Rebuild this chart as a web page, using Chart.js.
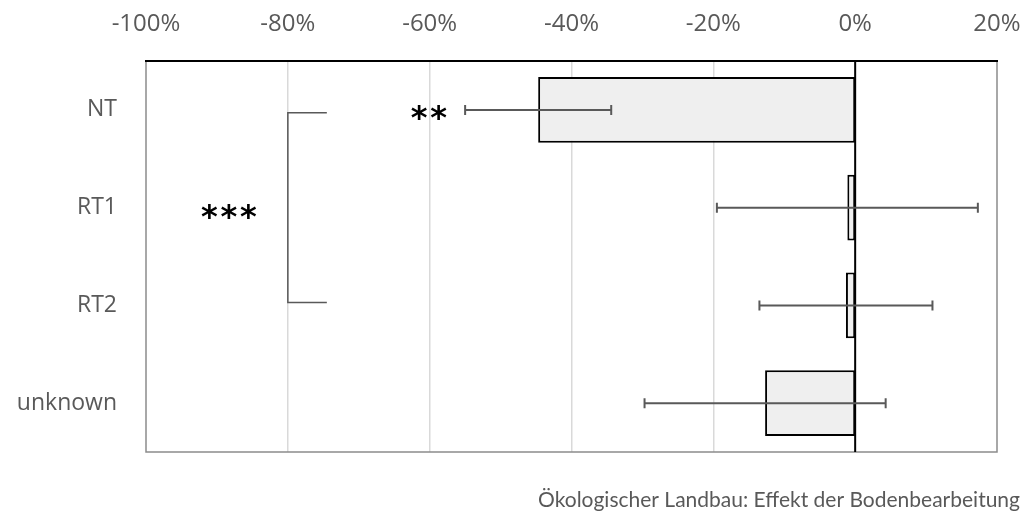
<!DOCTYPE html>
<html>
<head>
<meta charset="utf-8">
<script src="https://cdn.jsdelivr.net/npm/chart.js@4/dist/chart.umd.min.js"></script>
<style>
  html, body { margin: 0; padding: 0; background: #ffffff; }
  #wrap { width: 1027px; height: 516px; }
</style>
</head>
<body>
<div id="wrap"><canvas id="c" width="1027" height="516"></canvas></div>
<script>
// Tillage categories and their mean effect (fraction) with symmetric error half-widths
const categories = ['NT', 'RT1', 'RT2', 'unknown'];
const effects = [-0.447, -0.011, -0.013, -0.127];
const errors = [0.103, 0.184, 0.122, 0.170];

// Axis range and ticks
const xMin = -1.0;
const xMax = 0.2;
const xStep = 0.2;

// Significance marks: [label, x value, category position]
const starMarks = [
  ['***', -0.883, 1.04],
  ['**', -0.601, 0.03]
];
// Bracket joining NT and RT2: x of spine, x of arm ends, category span
const bracketX = -0.8;
const bracketArmX = -0.745;
const bracketFrom = 0.03;
const bracketTo = 1.97;

const titleText = 'Ökologischer Landbau: Effekt der Bodenbearbeitung';

const TEXT = '#595959';
const FONT = "'Open Sans', sans-serif";

const plotFrame = {
  id: 'plotFrame',
  beforeDatasetsDraw(chart) {
    const { ctx, chartArea: a } = chart;
    ctx.save();
    ctx.strokeStyle = '#8c8c8c';
    ctx.lineWidth = 1.5;
    ctx.beginPath();
    ctx.moveTo(a.left, a.top);
    ctx.lineTo(a.left, a.bottom);
    ctx.lineTo(a.right, a.bottom);
    ctx.lineTo(a.right, a.top);
    ctx.stroke();
    ctx.restore();
  },
  afterDatasetsDraw(chart) {
    const { ctx, chartArea: a } = chart;
    const xs = chart.scales.x, ys = chart.scales.y;
    ctx.save();
    // zero line above the bars
    const x0 = xs.getPixelForValue(0);
    ctx.strokeStyle = '#000';
    ctx.lineWidth = 2;
    ctx.beginPath();
    ctx.moveTo(x0, a.top);
    ctx.lineTo(x0, a.bottom);
    ctx.stroke();
    // top axis line
    ctx.beginPath();
    ctx.moveTo(a.left - 1, a.top);
    ctx.lineTo(a.right + 1, a.top);
    ctx.stroke();

    // error bars
    ctx.strokeStyle = TEXT;
    ctx.lineWidth = 2;
    const cap = 5;
    categories.forEach((c, i) => {
      const y = ys.getPixelForValue(i);
      const lo = xs.getPixelForValue(effects[i] - errors[i]);
      const hi = xs.getPixelForValue(effects[i] + errors[i]);
      ctx.beginPath();
      ctx.moveTo(lo, y); ctx.lineTo(hi, y);
      ctx.moveTo(lo, y - cap); ctx.lineTo(lo, y + cap);
      ctx.moveTo(hi, y - cap); ctx.lineTo(hi, y + cap);
      ctx.stroke();
    });

    // bracket
    const bx = xs.getPixelForValue(bracketX);
    const ax = xs.getPixelForValue(bracketArmX);
    const by1 = ys.getPixelForValue(bracketFrom);
    const by2 = ys.getPixelForValue(bracketTo);
    ctx.lineWidth = 1.5;
    ctx.beginPath();
    ctx.moveTo(ax, by1); ctx.lineTo(bx, by1); ctx.lineTo(bx, by2); ctx.lineTo(ax, by2);
    ctx.stroke();

    // significance stars, each glyph centred on its slot
    ctx.fillStyle = '#000';
    ctx.font = "bold 32px 'DejaVu Sans', sans-serif";
    ctx.textAlign = 'center';
    ctx.textBaseline = 'alphabetic';
    const gap = 19.5;
    starMarks.forEach(([label, xv, yv]) => {
      const cx = xs.getPixelForValue(xv);
      const cy = ys.getPixelForValue(yv);
      const n = label.length;
      const m = ctx.measureText('*');
      const mid = (m.actualBoundingBoxAscent - m.actualBoundingBoxDescent) / 2;
      for (let k = 0; k < n; k++) {
        const sx = cx + (k - (n - 1) / 2) * gap;
        ctx.fillText('*', sx, cy + mid);
      }
    });

    // caption under the plot
    ctx.fillStyle = TEXT;
    ctx.font = "21px Lato, sans-serif";
    ctx.textAlign = 'right';
    ctx.textBaseline = 'alphabetic';
    ctx.fillText(titleText, 1020, 507);
    ctx.restore();
  }
};

new Chart(document.getElementById('c'), {
  type: 'bar',
  data: {
    labels: categories,
    datasets: [{
      data: effects,
      backgroundColor: '#efefef',
      borderColor: '#000',
      borderWidth: 2,
      borderSkipped: false,
      categoryPercentage: 1.0,
      barPercentage: 0.675
    }]
  },
  options: {
    indexAxis: 'y',
    responsive: false,
    animation: false,
    layout: { padding: { left: 0, right: 30, top: 0, bottom: 64 } },
    plugins: { legend: { display: false }, tooltip: { enabled: false }, title: { display: false } },
    scales: {
      x: {
        position: 'top',
        min: xMin,
        max: xMax,
        afterFit(scale) {
          scale.height = 61;
          scale.paddingLeft = 0;
          scale.paddingRight = 0;
        },
        ticks: {
          stepSize: xStep,
          padding: 22,
          color: TEXT,
          font: { family: FONT, size: 24 },
          callback: (v) => Math.round(v * 100) + '%'
        },
        grid: {
          drawTicks: false,
          lineWidth: 1.5,
          color: (ctx) => {
            const v = Math.round(ctx.tick.value * 100);
            if (v === -100 || v === 20 || v === 0) return 'rgba(0,0,0,0)';
            return '#d9d9d9';
          }
        },
        border: { display: false }
      },
      y: {
        afterFit(scale) {
          scale.width = 146;
          scale.paddingTop = 0;
          scale.paddingBottom = 0;
        },
        ticks: {
          padding: 29,
          color: TEXT,
          font: { family: FONT, size: 23 }
        },
        grid: { display: false, drawTicks: false },
        border: { display: false }
      }
    }
  },
  plugins: [plotFrame]
});
</script>
</body>
</html>
